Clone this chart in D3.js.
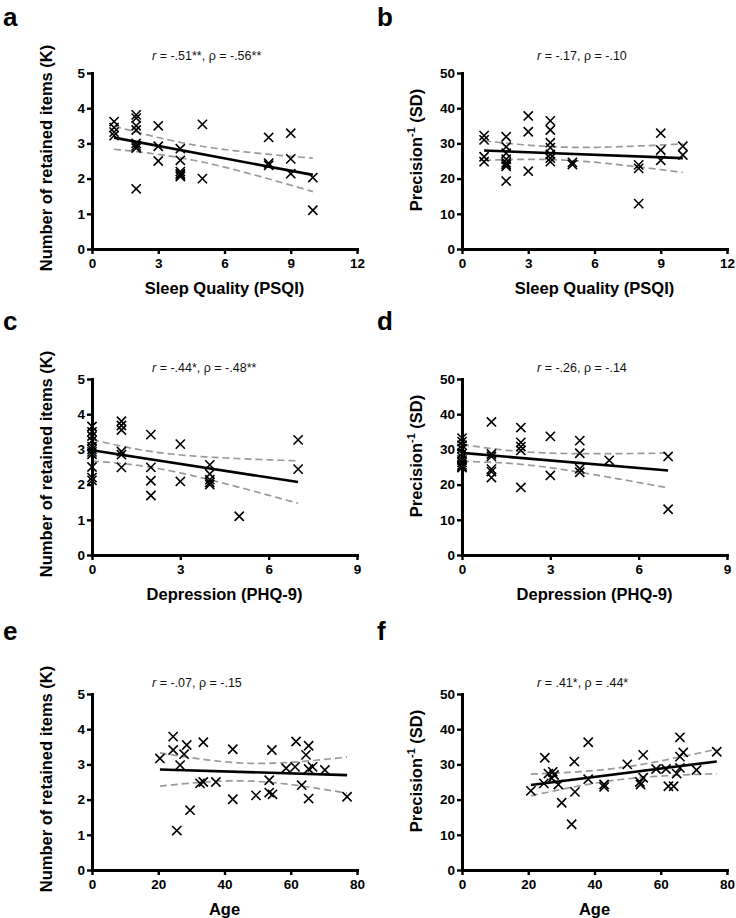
<!DOCTYPE html>
<html><head><meta charset="utf-8">
<script src="https://cdn.jsdelivr.net/npm/d3@7"></script>
<style>
body{margin:0;background:#fff;}
svg text{font-family:"Liberation Sans",Arial,Helvetica,sans-serif;}
</style></head><body>
<svg id="chart" width="736" height="918"></svg>
<script>
// ---------- data ----------
const psqiTicks = [0, 3, 6, 9, 12];
const phqTicks = [0, 3, 6, 9];
const ageTicks = [0, 20, 40, 60, 80];
const kTicks = [0, 1, 2, 3, 4, 5];
const sdTicks = [0, 10, 20, 30, 40, 50];

// a: Sleep quality vs K
const aX = [1,1,1,1, 2,2,2,2,2,2,2,2, 3,3,3, 4,4,4,4,4,4, 5,5, 8,8,8, 9,9,9, 10,10];
const aY = [3.62,3.45,3.32,3.22, 3.81,3.72,3.5,3.38,3.0,2.93,2.87,1.71, 3.5,2.92,2.5, 2.85,2.52,2.2,2.14,2.1,2.06, 3.54,2.0, 3.17,2.44,2.38, 3.29,2.56,2.14, 2.03,1.1];
// b: Sleep quality vs precision
const bX = [1,1,1,1, 2,2,2,2,2,2,2,2, 3,3,3, 4,4,4,4,4,4,4, 5,5, 8,8,8, 9,9,9, 10,10];
const bY = [32.2,31.0,26.2,24.8, 31.9,29.0,27.2,25.5,24.5,24.0,23.5,19.3, 37.8,33.3,22.1, 36.4,33.8,30.2,28.8,26.9,25.8,24.8, 24.6,24.0, 23.9,22.9,12.9, 32.9,28.1,25.2, 29.2,26.7];
// c: Depression vs K
const cX = [0,0,0,0,0,0,0,0,0,0,0, 1,1,1,1,1,1, 2,2,2,2, 3,3, 4,4,4,4,4, 5, 7,7];
const cY = [3.65,3.5,3.38,3.25,3.08,3.0,2.93,2.86,2.5,2.2,2.12, 3.8,3.68,3.55,2.94,2.85,2.49, 3.42,2.49,2.11,1.69, 3.15,2.09, 2.56,2.3,2.14,2.06,2.0, 1.1, 3.27,2.44];
// d: Depression vs precision
const dX = [0,0,0,0,0,0,0,0,0,0,0, 1,1,1,1,1,1, 2,2,2,2,2, 3,3, 4,4,4,4, 5, 7,7];
const dY = [33.2,32.2,31.2,30.2,28.8,27.8,27.0,26.3,25.6,25.2,24.8, 37.8,28.7,28.0,24.4,23.7,22.0, 36.2,32.0,30.8,29.7,19.2, 33.7,22.6, 32.5,28.9,24.5,23.5, 26.9, 28.0,13.0];
// e: Age vs K
const eX = [20.5,24.5,24.5,27.8,28.6,26.6,25.6,29.6,33.6,32.6,33.6,37.4,42.5,42.5,49.5,53.5,53.5,54.5,54.3,58.6,61.6,61.3,64.6,65.4,63.3,65.4,66.6,65.4,70.3,77];
const eY = [3.17,3.79,3.41,3.29,3.55,2.98,1.12,1.70,3.63,2.46,2.50,2.50,3.43,2.01,2.12,2.55,2.2,2.15,3.41,2.89,3.65,2.93,3.27,3.53,2.41,2.87,2.93,2.03,2.84,2.08];
// f: Age vs precision
const fX = [20.8,25.0,24.7,26.1,27.4,27.8,27.1,29.1,30.1,33.1,33.9,34.1,38.1,38.1,42.9,42.9,49.9,53.7,53.9,54.7,54.7,58.6,61.6,62.3,63.9,65.8,65.8,66.8,64.8,65.8,70.8,76.9];
const fY = [22.5,31.9,24.6,27.4,27.9,27.0,26.0,24.3,19.1,13.0,30.8,22.2,36.3,25.8,24.3,23.6,30.0,25.0,24.3,32.7,26.2,28.7,28.7,23.8,23.8,37.7,32.2,33.4,27.4,29.0,28.4,33.6];

const panelLetters = ["a","b","c","d","e","f"];
const rValues = ["-.51**","-.17","-.44*","-.26","-.07",".41*"];
const rhoValues = ["-.56**","-.10","-.48**","-.14","-.15",".44*"];
const xTitles = ["Sleep Quality (PSQI)","Sleep Quality (PSQI)","Depression (PHQ-9)","Depression (PHQ-9)","Age","Age"];

// ---------- layout ----------
const colX = [92, 462];
const plotW = 265, plotH = 176;
const rowTop = [73, 379, 694];
const statBase = [60, 372, 687];
const statLeft = [152, 537];
const letterBase = [26, 330, 640];
const letterX = [3, 377];

const panels = [
  {x:aX, y:aY, xd:[0,12], xt:psqiTicks, yd:[0,5], yt:kTicks, yk:"K"},
  {x:bX, y:bY, xd:[0,12], xt:psqiTicks, yd:[0,50], yt:sdTicks, yk:"SD"},
  {x:cX, y:cY, xd:[0,9], xt:phqTicks, yd:[0,5], yt:kTicks, yk:"K"},
  {x:dX, y:dY, xd:[0,9], xt:phqTicks, yd:[0,50], yt:sdTicks, yk:"SD"},
  {x:eX, y:eY, xd:[0,80], xt:ageTicks, yd:[0,5], yt:kTicks, yk:"K"},
  {x:fX, y:fY, xd:[0,80], xt:ageTicks, yd:[0,50], yt:sdTicks, yk:"SD"}
];

const svg = d3.select("#chart");
svg.append("rect").attr("width",736).attr("height",918).attr("fill","#fff");

const tCrit = 2.045;

panels.forEach((p, i) => {
  const col = i % 2, row = Math.floor(i / 2);
  const x0 = colX[col], top = rowTop[row], bottom = top + plotH;
  const xs = d3.scaleLinear().domain(p.xd).range([x0, x0 + plotW]);
  const ys = d3.scaleLinear().domain(p.yd).range([bottom, top]);
  const g = svg.append("g");

  svg.append("text").attr("x", letterX[col]).attr("y", letterBase[row])
    .attr("font-size", 26).attr("font-weight", "bold").text(panelLetters[i]);

  const st = svg.append("text").attr("x", statLeft[col]).attr("y", statBase[row])
    .attr("font-size", 12.5).attr("fill", "#111");
  st.append("tspan").attr("font-style", "italic").text("r");
  st.append("tspan").text(" = " + rValues[i] + ", \u03c1 = " + rhoValues[i]);

  const n = p.x.length;
  const mx = d3.mean(p.x), my = d3.mean(p.y);
  let sxx = 0, sxy = 0;
  for (let k = 0; k < n; k++) { sxx += (p.x[k]-mx)**2; sxy += (p.x[k]-mx)*(p.y[k]-my); }
  const slope = sxy / sxx, icpt = my - slope * mx;
  let sse = 0;
  for (let k = 0; k < n; k++) sse += (p.y[k] - (icpt + slope*p.x[k]))**2;
  const s = Math.sqrt(sse / (n - 2));
  const [xmin, xmax] = d3.extent(p.x);
  const grid = d3.range(0, 61).map(j => xmin + (xmax - xmin) * j / 60);
  const hw = xv => tCrit * s * Math.sqrt(1/n + (xv-mx)**2 / sxx);
  const line = d3.line().x(d => xs(d[0])).y(d => ys(d[1]));

  g.append("path").attr("d", line(grid.map(xv => [xv, icpt + slope*xv + hw(xv)])))
    .attr("fill","none").attr("stroke","#9a9a9a").attr("stroke-width",1.7).attr("stroke-dasharray","7,4");
  g.append("path").attr("d", line(grid.map(xv => [xv, icpt + slope*xv - hw(xv)])))
    .attr("fill","none").attr("stroke","#9a9a9a").attr("stroke-width",1.7).attr("stroke-dasharray","7,4");

  const r = 4.6;
  g.append("g").selectAll("path").data(p.x.map((xv,k)=>[xv,p.y[k]])).join("path")
    .attr("d", d => {
      const cx = xs(d[0]), cy = ys(d[1]);
      return `M${cx-r},${cy-r}L${cx+r},${cy+r}M${cx-r},${cy+r}L${cx+r},${cy-r}`;
    })
    .attr("stroke","#000").attr("stroke-width",1.6).attr("fill","none");

  g.append("path").attr("d", line([[xmin, icpt+slope*xmin],[xmax, icpt+slope*xmax]]))
    .attr("stroke","#000").attr("stroke-width",2.6).attr("fill","none");

  const xa = g.append("g").attr("transform", `translate(0,${bottom})`)
    .call(d3.axisBottom(xs).tickValues(p.xt).tickSize(5).tickSizeOuter(0).tickPadding(4).tickFormat(d3.format("d")));
  const ya = g.append("g").attr("transform", `translate(${x0},0)`)
    .call(d3.axisLeft(ys).tickValues(p.yt).tickSize(5).tickSizeOuter(0).tickPadding(2).tickFormat(d3.format("d")));
  [xa, ya].forEach(a => {
    a.select(".domain").attr("stroke","#000").attr("stroke-width",3).attr("stroke-linecap","square");
    a.selectAll(".tick line").attr("stroke","#000").attr("stroke-width",2.4);
    a.selectAll(".tick text").attr("font-family",'"Liberation Sans",Arial,sans-serif')
      .attr("font-size",13.5).attr("font-weight","bold").attr("fill","#000");
  });

  svg.append("text").attr("x", x0 + plotW/2).attr("y", bottom + 45)
    .attr("text-anchor","middle").attr("font-size",16.5).attr("font-weight","bold")
    .text(xTitles[i]);

  const yc = col === 0 ? top + plotH/2 - 3 : top + plotH/2 - 11;
  const yt = svg.append("text").attr("transform", `translate(${x0-40},${yc}) rotate(-90)`)
    .attr("text-anchor","middle").attr("font-size",16.5).attr("font-weight","bold");
  if (p.yk === "K") {
    yt.text("Number of retained items (K)");
  } else {
    yt.append("tspan").text("Precision");
    yt.append("tspan").attr("font-size",11).attr("dy",-7).text("-1");
    yt.append("tspan").attr("dy",7).text(" (SD)");
  }
});
</script>
</body></html>
